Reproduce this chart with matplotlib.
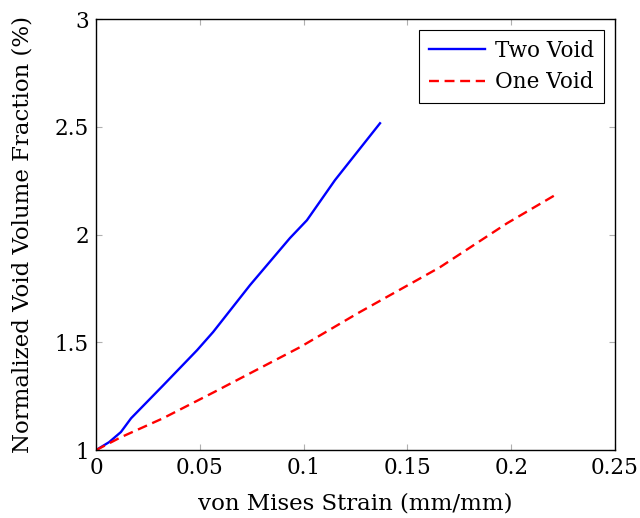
import matplotlib.pyplot as plt

# datos
deform_dos = [0.0, 0.0063, 0.012, 0.0169, 0.0323, 0.0487, 0.0564, 0.0742, 0.0934, 0.1016, 0.1151, 0.1368]
frac_dos = [1.0, 1.037, 1.084, 1.148, 1.30, 1.464, 1.548, 1.766, 1.984, 2.067, 2.253, 2.517]

deform_uno = [0.0, 0.012, 0.0323, 0.0568, 0.0983, 0.1262, 0.1546, 0.1657, 0.198, 0.221]
frac_uno = [1.0, 1.06, 1.148, 1.269, 1.478, 1.636, 1.789, 1.849, 2.053, 2.183]

xticks = [0, 0.05, 0.1, 0.15, 0.2, 0.25]
xlabels = ["0", "0.05", "0.1", "0.15", "0.2", "0.25"]
yticks = [1, 1.5, 2, 2.5, 3]
ylabels = ["1", "1.5", "2", "2.5", "3"]

plt.rcParams["font.family"] = ["DejaVu Serif"]
plt.rcParams["font.size"] = 15.5

fig = plt.figure(figsize=(6.4, 5.18), dpi=100)
ax = fig.add_axes([0.15, 0.131, 0.811, 0.832])

ax.plot(deform_dos, frac_dos, color="blue", lw=1.7, label="Two Void")
ax.plot(deform_uno, frac_uno, color="red", lw=1.7, dashes=(4.2, 2.4), label="One Void")

ax.set_xlim(0, 0.25)
ax.set_ylim(1, 3)
ax.set_xticks(xticks, xlabels)
ax.set_yticks(yticks, ylabels)
ax.tick_params(direction="in", length=4, width=0.8, color="#b0b0b0",
               top=True, right=True, pad=5)
for s in ax.spines.values():
    s.set_linewidth(1.0)

ax.set_xlabel("von Mises Strain (mm/mm)", fontsize=16.5, labelpad=10)
ax.set_ylabel("Normalized Void Volume Fraction (%)", fontsize=16.5, labelpad=15)

leg = ax.legend(loc="upper right", fancybox=False, edgecolor="black",
                framealpha=1, handlelength=2.6, handletextpad=0.5,
                borderaxespad=0.5, labelspacing=0.45, borderpad=0.45)
leg.get_frame().set_linewidth(0.8)

plt.savefig("out.png", dpi=100)
